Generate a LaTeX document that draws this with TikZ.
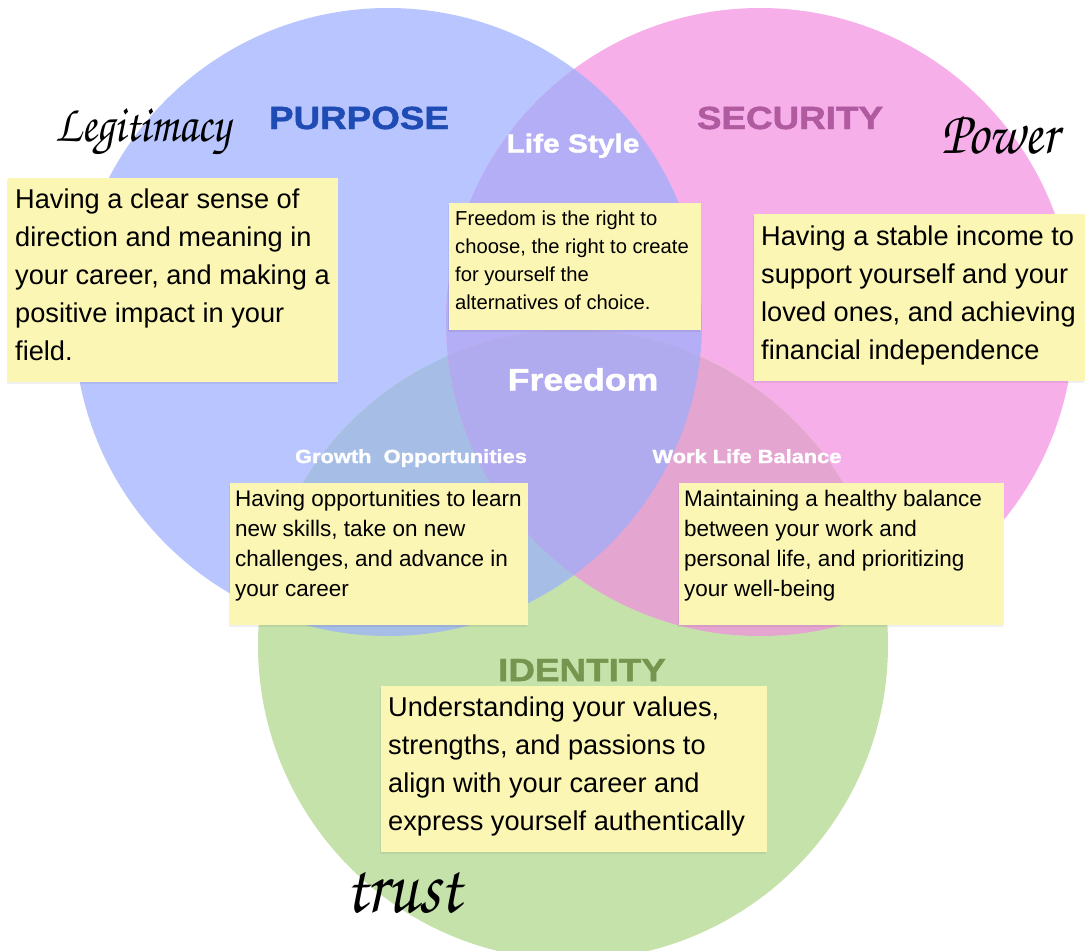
\documentclass[tikz,border=0pt]{standalone}
\usepackage{fontspec}
\setmainfont{Liberation Sans}
\newfontfamily\headfont{Liberation Sans Bold}[FakeStretch=1.15,FakeBold=1.5]
\newfontfamily\scriptfam{texgyrechorus-mediumitalic.otf}[FakeStretch=0.85]
\usetikzlibrary{shadows}
\definecolor{cblue}{HTML}{B8C5FE}
\definecolor{cpink}{HTML}{F7AFEA}
\definecolor{cgreen}{HTML}{C5E2AB}
\definecolor{cbp}{HTML}{B3AEF5}
\definecolor{cbg}{HTML}{A6BDE5}
\definecolor{cpg}{HTML}{E4A6D1}
\definecolor{cbpg}{HTML}{B0AAEE}
\definecolor{notey}{HTML}{FCF6B4}
\definecolor{purpc}{HTML}{1F4BB4}
\definecolor{secc}{HTML}{B05AA0}
\definecolor{idc}{HTML}{76964F}
\begin{document}
\begin{tikzpicture}[x=1pt,y=-1pt,
  note/.style={fill=notey, inner sep=0pt, outer sep=0pt, anchor=north west,
    drop shadow={shadow xshift=-1pt, shadow yshift=-2pt, opacity=0.06, fill=black}},
  bigtxt/.style={anchor=north west, inner sep=0pt, align=left, text=black, font=\fontsize{27.2}{38}\selectfont},
  midtxt/.style={anchor=north west, inner sep=0pt, align=left, text=black, font=\fontsize{22.5}{30}\selectfont},
  smalltxt/.style={anchor=north west, inner sep=0pt, align=left, text=black, font=\fontsize{20.2}{28}\selectfont},
  heading/.style={anchor=base, inner sep=0pt, font=\headfont\fontsize{32}{32}\selectfont},
  whitehead/.style={anchor=base, inner sep=0pt, text=white},
  sig/.style={inner sep=0pt, text=black}
]
\clip (0,0) rectangle (1085,951);
\fill[white] (0,0) rectangle (1085,951);
\coordinate (cb) at (388,322);
\coordinate (cp) at (760,322);
\coordinate (cg) at (573,645);
% circles
\fill[cblue] (cb) circle[radius=314pt];
\fill[cpink] (cp) circle[radius=314pt];
\fill[cgreen] (cg) circle[radius=315pt];
\begin{scope}
  \clip (cb) circle[radius=314pt];
  \fill[cbp] (cp) circle[radius=314pt];
  \fill[cbg] (cg) circle[radius=315pt];
\end{scope}
\begin{scope}
  \clip (cp) circle[radius=314pt];
  \fill[cpg] (cg) circle[radius=315pt];
\end{scope}
\begin{scope}
  \clip (cb) circle[radius=314pt];
  \clip (cp) circle[radius=314pt];
  \fill[cbpg] (cg) circle[radius=315pt];
\end{scope}
% headings
\node[heading, text=purpc] (purpose) at (359,129) {PURPOSE};
\node[heading, text=secc] (security) at (790,129) {SECURITY};
\node[heading, text=idc] (identity) at (582,681) {IDENTITY};
\node[whitehead, font=\headfont\fontsize{26}{26}\selectfont] (lifestyle) at (573,152.5) {Life Style};
\node[whitehead, font=\headfont\fontsize{31}{31}\selectfont] (freedom) at (583,390.5) {Freedom};
\node[whitehead, font=\headfont\fontsize{19}{19}\selectfont] (growth) at (411,463) {Growth\ \ Opportunities};
\node[whitehead, font=\headfont\fontsize{19}{19}\selectfont] (worklife) at (747,463) {Work Life Balance};
% notes
\node[note, minimum width=330pt, minimum height=204pt] (npurp) at (8,178) {};
\node[bigtxt] (tpurp) at (15,189) {Having a clear sense of\\direction and meaning in\\your career, and making a\\positive impact in your\\field.};
\node[note, minimum width=331pt, minimum height=167pt] (nsec) at (754,214) {};
\node[bigtxt] (tsec) at (761,226) {Having a stable income to\\support yourself and your\\loved ones, and achieving\\financial independence};
\node[note, minimum width=252pt, minimum height=127pt] (nfree) at (449,203) {};
\node[smalltxt] (tfree) at (455,210.5) {Freedom is the right to\\choose, the right to create\\for yourself the\\alternatives of choice.};
\node[note, minimum width=298pt, minimum height=142pt] (ngrow) at (230,483) {};
\node[midtxt] (tgrow) at (235,490) {Having opportunities to learn\\new skills, take on new\\challenges, and advance in\\your career};
\node[note, minimum width=325pt, minimum height=142pt] (nwork) at (679,483) {};
\node[midtxt] (twork) at (684,490) {Maintaining a healthy balance\\between your work and\\personal life, and prioritizing\\your well-being};
\node[note, minimum width=386pt, minimum height=166pt] (nid) at (381,686) {};
\node[bigtxt] (tid) at (388,697) {Understanding your values,\\strengths, and passions to\\align with your career and\\express yourself authentically};
% signature words
\node[sig, font=\scriptfam\fontsize{53}{53}\selectfont] (legit) at (143,132) {Legitimacy};
\node[sig, font=\scriptfam\fontsize{62}{62}\selectfont] (power) at (1000,135) {Power};
\node[sig, font=\scriptfam\fontsize{80}{80}\selectfont] (trust) at (403,893) {trust};
\end{tikzpicture}
\end{document}
